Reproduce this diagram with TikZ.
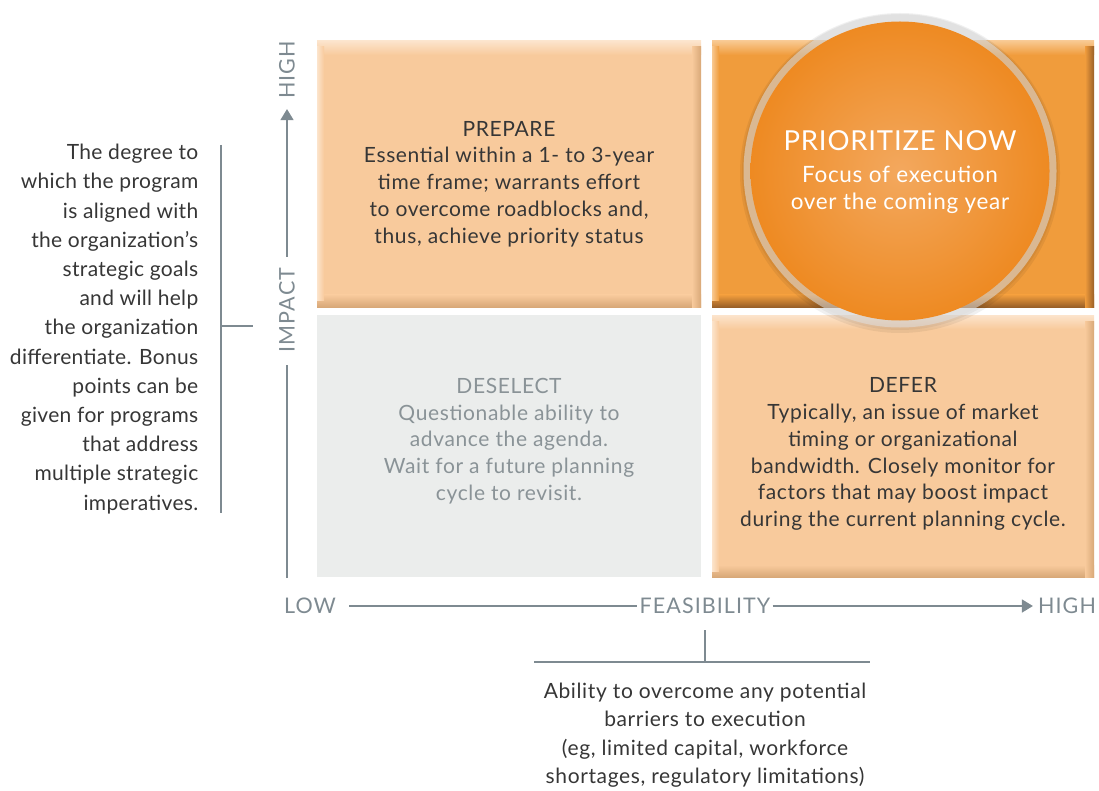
\documentclass[tikz,border=0pt]{standalone}
\usepackage{fontspec}
\setmainfont{Lato}[LetterSpace=3]
\newfontfamily\axfont{Lato}[LetterSpace=5]
\newfontfamily\leftfont{Lato}[LetterSpace=1.5]
\usetikzlibrary{arrows.meta}
\definecolor{peach}{HTML}{F8CA9C}
\definecolor{peachlight}{HTML}{FCE4CC}
\definecolor{peachdark}{HTML}{D8A878}
\definecolor{orng}{HTML}{F09C3C}
\definecolor{orngdark}{HTML}{9A6028}
\definecolor{ornglight}{HTML}{F8C890}
\definecolor{circin}{HTML}{F3A85E}
\definecolor{circout}{HTML}{EE8A22}
\definecolor{greybox}{HTML}{EBEDEC}
\definecolor{axisgrey}{HTML}{7E8A91}
\definecolor{txtdark}{HTML}{363636}
\definecolor{txtgrey}{HTML}{8A9397}
\newcommand\bvbox[7]{%
  \fill[#5] (#1,#2) rectangle (#3,#4);
  \shade[top color=#6, bottom color=#5] (#1,#2) rectangle (#3,#2+14);
  \shade[top color=#5, bottom color=#7] (#1,#4-12) rectangle (#3,#4);
  \shade[left color=#5, right color=#7] (#3-9,#2+6) rectangle (#3,#4);
  \shade[left color=#6, right color=#5] (#1,#2+6) rectangle (#1+7,#4-6);
}
\tikzset{
  body/.style={align=center, inner sep=0pt, font=\fontsize{21}{26.8}\selectfont},
  axlabel/.style={inner sep=0pt, text=axisgrey, font=\axfont\fontsize{21.5}{24}\selectfont},
  axline/.style={draw=axisgrey, line width=1.5pt},
  bracket/.style={draw=axisgrey, line width=1.5pt},
  arrowtip/.style={-{Triangle[length=11pt,width=13pt]}}
}
\begin{document}
\begin{tikzpicture}[x=1pt,y=-1pt]
\useasboundingbox (0,0) rectangle (1099,791);
% quadrants
\bvbox{317}{41}{701}{307}{peach}{peachlight}{peachdark}
\bvbox{712}{41}{1094}{307}{orng}{ornglight}{orngdark}
\fill[greybox] (317,315) rectangle (701,577);
\bvbox{712}{315}{1094}{577}{peach}{peachlight}{peachdark}
% circle
\fill[black, opacity=0.06] (900,173) circle (160);
\fill[black, opacity=0.05] (900,172) circle (158);
\fill[gray!25, opacity=0.55] (900,171) circle (156.5);
\shade[inner color=circin, outer color=circout] (900,171) circle (149.5);
% quadrant texts
\node[body, text=txtdark] (prep) at (509,184) {PREPARE\\Essential within a 1- to 3-year\\time frame; warrants effort\\to overcome roadblocks and,\\thus, achieve priority status};
\node[align=center, inner sep=0pt, text=white, font=\fontsize{22.5}{27}\selectfont] (prio) at (900,172.5)
  {{\fontsize{27.5}{30}\selectfont PRIORITIZE NOW}\\[5pt]Focus of execution\\over the coming year};
\node[body, text=txtgrey] (desel) at (509,441) {DESELECT\\Questionable ability to\\advance the agenda.\\Wait for a future planning\\cycle to revisit.};
\node[body, text=txtdark] (defer) at (903,454) {DEFER\\Typically, an issue of market\\timing or organizational\\bandwidth. Closely monitor for\\factors that may boost impact\\during the current planning cycle.};
% left text
\node[align=right, inner sep=0pt, text=txtdark, font=\leftfont\fontsize{21}{29.2}\selectfont, anchor=east] (imptext) at (198.5,329)
  {The degree to\\which the program\\is aligned with\\the organization’s\\strategic goals\\and will help\\the organization\\differentiate. Bonus\\points can be\\given for programs\\that address\\multiple strategic\\imperatives.};
% bottom text
\node[align=center, inner sep=0pt, text=txtdark, font=\fontsize{21}{28.5}\selectfont] (feastext) at (705,735)
  {Ability to overcome any potential\\barriers to execution\\(eg, limited capital, workforce\\shortages, regulatory limitations)};
% axes
\coordinate (origin) at (287,578);
\node[axlabel, rotate=90] (impact) at (287,310) {IMPACT};
\node[axlabel, rotate=90] (highy) at (287,70) {HIGH};
\draw[axline] (origin) -- ([yshift=-13pt]impact.west);
\draw[axline, arrowtip] ([yshift=11pt]impact.east) -- ([yshift=-10pt]highy.west);
\node[axlabel] (low) at (310,606) {LOW};
\node[axlabel] (feas) at (705,606) {FEASIBILITY};
\node[axlabel] (highx) at (1067,606) {HIGH};
\draw[axline] ([xshift=13pt]low.east) -- ([xshift=-2pt]feas.west);
\draw[axline, arrowtip] ([xshift=2pt]feas.east) -- ([xshift=-5pt]highx.west);
% brackets
\coordinate (lbtop) at (221,145);
\coordinate (lbbot) at (221,513);
\coordinate (lbmid) at (221,326);
\coordinate (lbtick) at (253,326);
\draw[bracket] (lbtop) -- (lbbot);
\draw[bracket] (lbmid) -- (lbtick);
\coordinate (bbl) at (534,662);
\coordinate (bbr) at (870,662);
\coordinate (bbmid) at (705,662);
\coordinate (bbtick) at (705,630);
\draw[bracket] (bbl) -- (bbr);
\draw[bracket] (bbmid) -- (bbtick);
\end{tikzpicture}
\end{document}
